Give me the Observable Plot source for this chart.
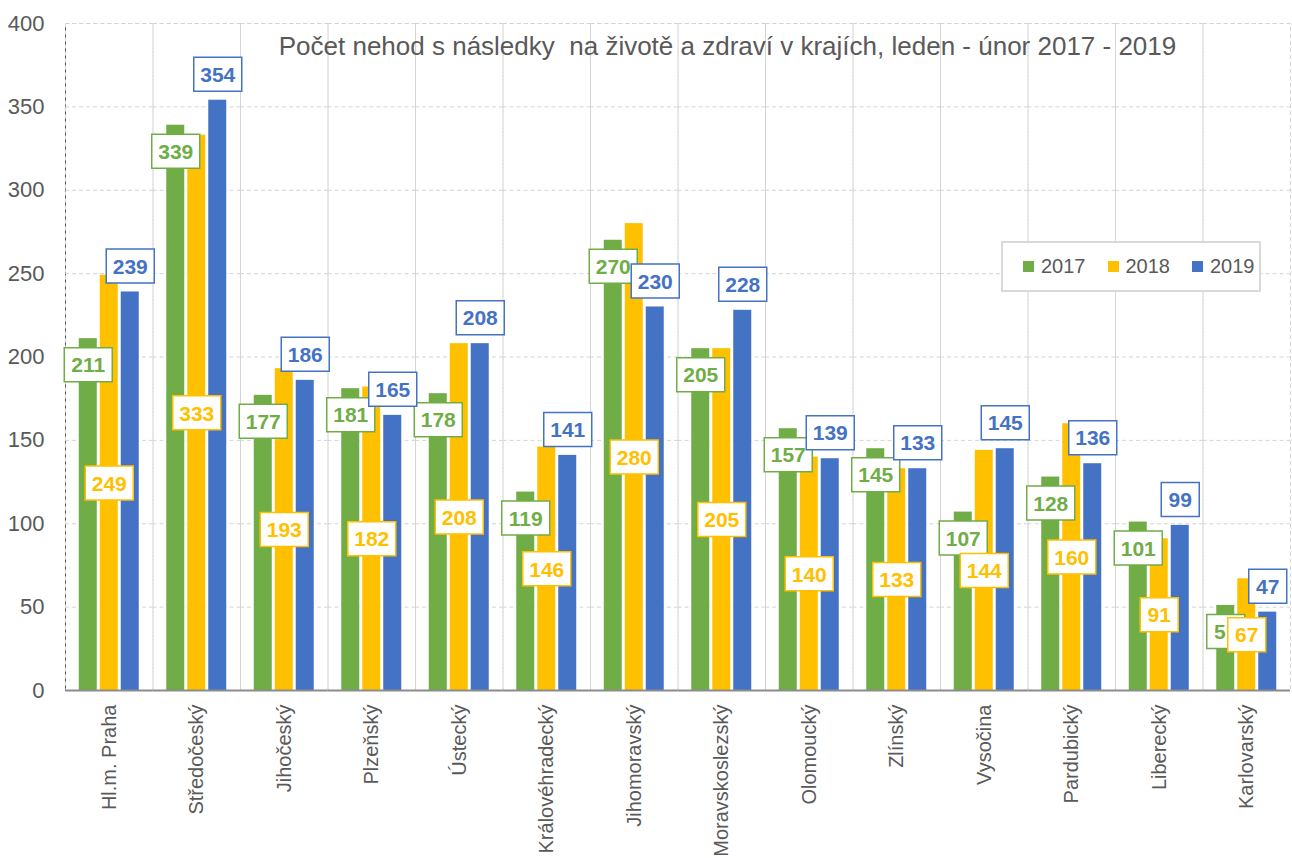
<!DOCTYPE html>
<html><head><meta charset="utf-8">
<script src="https://cdn.jsdelivr.net/npm/d3@7"></script>
<script src="https://cdn.jsdelivr.net/npm/@observablehq/plot@0.6"></script>
<style>
body{margin:0;background:#fff;}
#wrap{position:relative;width:1292px;height:858px;overflow:hidden;}
#title{position:absolute;left:0;width:1292px;top:31px;text-align:center;padding-left:163px;box-sizing:border-box;font:26px "Liberation Sans Narrow","Arial Narrow","Liberation Sans",sans-serif;color:#595959;}
#legend{position:absolute;left:1001px;top:241px;width:260px;height:51px;border:2px solid #d9d9d9;background:#fff;font:20px "Liberation Sans Narrow","Arial Narrow","Liberation Sans",sans-serif;color:#595959;display:flex;align-items:center;padding-left:20px;box-sizing:border-box;}
#legend span.sw{display:inline-block;width:11px;height:11px;margin-right:7px;}
#legend .it{margin-right:22px;display:flex;align-items:center;}
svg [aria-label="y-axis"] path, svg [aria-label="y-axis line"] {stroke:#8c8c8c;stroke-width:2;}
</style>
</head><body>
<div id="wrap"><div id="chart"></div>
<div id="title">Počet nehod s následky&nbsp; na životě a zdraví v krajích, leden - únor 2017 - 2019</div>
<div id="legend"></div>
</div>
<script>
const regions = ["Hl.m. Praha","Středočeský","Jihočeský","Plzeňský","Ústecký","Královéhradecký","Jihomoravský","Moravskoslezský","Olomoucký","Zlínský","Vysočina","Pardubický","Liberecký","Karlovarský"];
const years = ["2017","2018","2019"];
const v2017 = [211,339,177,181,178,119,270,205,157,145,107,128,101,51];
const v2018 = [249,333,193,182,208,146,280,205,140,133,144,160,91,67];
const v2019 = [239,354,186,165,208,141,230,228,139,133,145,136,99,47];
const colors = ["#70AD47","#FFC000","#4472C4"];
const yTicks = [0,50,100,150,200,250,300,350,400];

const series = [v2017, v2018, v2019];
const data = [];
years.forEach((y, i) => regions.forEach((r, j) => data.push({region: r, year: y, value: series[i][j]})));

const FONT = '"Liberation Sans Narrow","Arial Narrow","Liberation Sans",sans-serif';
const box = (w, h) => ({draw(ctx){ ctx.rect(-w/2, -h/2, w, h); }});
const box3 = box(48, 34), box2 = box(38, 34);

function labelMarks(year, color, yAcc, dy) {
  const d = data.filter(e => e.year === year);
  const d3s = d.filter(e => String(e.value).length >= 3);
  const d2s = d.filter(e => String(e.value).length < 3);
  return [
    Plot.dot(d3s, {fx: "region", x: "year", y: yAcc, dy, symbol: box3, r: 10, fill: "white", stroke: color, strokeWidth: 1.5}),
    Plot.dot(d2s, {fx: "region", x: "year", y: yAcc, dy, symbol: box2, r: 10, fill: "white", stroke: color, strokeWidth: 1.5}),
    Plot.text(d, {fx: "region", x: "year", y: yAcc, dy: dy + 1, text: e => String(e.value), fill: color, fontWeight: "bold", fontSize: 21, fontFamily: FONT})
  ];
}

const chart = Plot.plot({
  width: 1292, height: 858,
  marginLeft: 65, marginRight: 2, marginTop: 23, marginBottom: 168,
  style: {fontFamily: FONT, fontSize: "22px", color: "#595959", background: "white"},
  fx: {domain: regions, padding: 0, round: false, axis: "bottom", tickRotate: -90, tickSize: 0, tickPadding: 14, label: null},
  x: {domain: years, axis: null, round: false, paddingInner: 0.143, paddingOuter: 0.655},
  y: {domain: [0, 400], ticks: yTicks, tickSize: 0, tickPadding: 21, label: null, line: true},
  color: {domain: years, range: colors},
  marks: [
    Plot.ruleY(yTicks, {stroke: "#d4d4d4", strokeDasharray: "4,3"}),
    Plot.frame({stroke: "#d4d4d4", strokeDasharray: "4,3"}),
    Plot.barY(data, {fx: "region", x: "year", y: "value", fill: "year"}),
    Plot.ruleY([0], {stroke: "#8c8c8c", strokeWidth: 2}),
    ...labelMarks("2017", colors[0], "value", 26),
    ...labelMarks("2018", colors[1], e => e.value / 2, 0),
    ...labelMarks("2019", colors[2], "value", -26)
  ]
});
chart.querySelectorAll('[aria-label="fx-axis tick label"] text, [aria-label="fx-axis"] text').forEach(t => t.setAttribute("font-size", "20"));
document.getElementById("chart").appendChild(chart);

const lg = document.getElementById("legend");
years.forEach((y, i) => {
  const it = document.createElement("div"); it.className = "it";
  it.innerHTML = `<span class="sw" style="background:${colors[i]}"></span>${y}`;
  lg.appendChild(it);
});
</script>
</body></html>
